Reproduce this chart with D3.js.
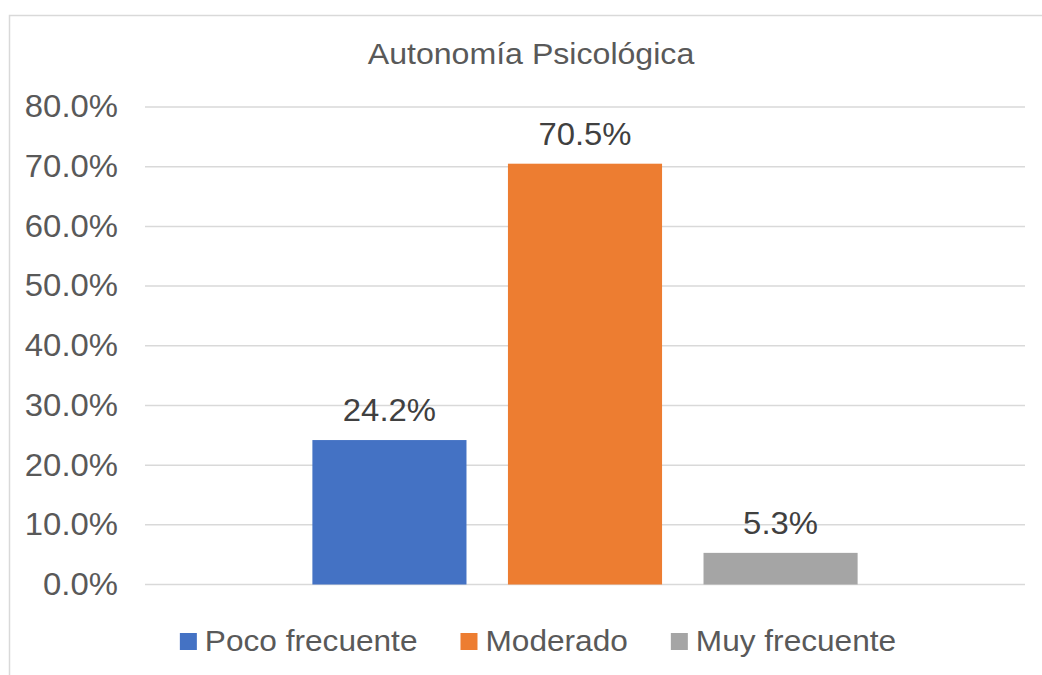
<!DOCTYPE html>
<html>
<head>
<meta charset="utf-8">
<script src="https://cdn.jsdelivr.net/npm/d3@7"></script>
<style>
  body { margin: 0; background: #fff; }
  svg text { font-family: "Liberation Sans", Arial, sans-serif; }
</style>
</head>
<body>
<svg id="chart" width="1042" height="675"></svg>
<script>
// data
var title = "Autonomía Psicológica";
var category = ["Autonomía Psicológica"];
var series = ["Poco frecuente", "Moderado", "Muy frecuente"];
var values = [24.2, 70.5, 5.3];
var colors = ["#4472C4", "#ED7D31", "#A5A5A5"];
var yTicks = [0, 10, 20, 30, 40, 50, 60, 70, 80];

var svg = d3.select("#chart");

// the original text is a bit wider than Liberation Sans, stretch it a little
function stretch(sel, k) {
  sel.each(function () {
    var w = this.getComputedTextLength();
    d3.select(this).attr("textLength", w * k).attr("lengthAdjust", "spacingAndGlyphs");
  });
}

// chart frame (runs off the right and bottom edges)
svg.append("rect")
  .attr("x", 9.5).attr("y", 15.5)
  .attr("width", 1100).attr("height", 700)
  .attr("fill", "none")
  .attr("stroke", "#d9d9d9")
  .attr("stroke-width", 1.5);

// title
svg.append("text")
  .attr("x", 531).attr("y", 64)
  .attr("text-anchor", "middle")
  .style("font-size", "30px")
  .style("fill", "#595959")
  .text(title)
  .call(stretch, 1.07);

var y = d3.scaleLinear()
  .domain([0, 80])
  .range([584.5, 107]);

var x0 = d3.scaleBand()
  .domain(category)
  .range([145, 1025])
  .paddingInner(0)
  .paddingOuter(0.307);

var x1 = d3.scaleBand()
  .domain(series)
  .range([0, x0.bandwidth()])
  .paddingInner(0.212)
  .paddingOuter(0);

// gridlines
svg.append("g")
  .selectAll("line")
  .data(yTicks)
  .join("line")
  .attr("x1", 145).attr("x2", 1025)
  .attr("y1", d => y(d)).attr("y2", d => y(d))
  .attr("stroke", "#d9d9d9")
  .attr("stroke-width", 1.5);

// y axis labels
var yAxis = svg.append("g")
  .attr("transform", "translate(128,0)")
  .call(d3.axisLeft(y).tickValues(yTicks).tickFormat(d => d.toFixed(1) + "%").tickSize(0).tickPadding(10));
yAxis.select(".domain").remove();
yAxis.selectAll("text")
  .style("font-size", "31px")
  .style("font-family", "'Liberation Sans', Arial, sans-serif")
  .attr("fill", "#595959")
  .call(stretch, 1.06);

// bars
var g = svg.append("g")
  .attr("transform", "translate(" + x0(category[0]) + ",0)");

g.selectAll("rect")
  .data(series)
  .join("rect")
  .attr("x", d => x1(d))
  .attr("y", (d, i) => y(values[i]))
  .attr("width", x1.bandwidth())
  .attr("height", (d, i) => y(0) - y(values[i]))
  .attr("fill", (d, i) => colors[i]);

// data labels
g.selectAll("text")
  .data(series)
  .join("text")
  .attr("x", d => x1(d) + x1.bandwidth() / 2)
  .attr("y", (d, i) => y(values[i]) - 19)
  .attr("text-anchor", "middle")
  .style("font-size", "31px")
  .style("fill", "#404040")
  .text((d, i) => values[i].toFixed(1) + "%")
  .call(stretch, 1.06);

// legend
var legend = svg.append("g");
var item = legend.selectAll("g")
  .data(series)
  .join("g");
item.append("rect")
  .attr("width", 17).attr("height", 17)
  .attr("y", 633)
  .attr("fill", (d, i) => colors[i]);
item.append("text")
  .attr("x", 25)
  .attr("y", 651)
  .style("font-size", "29px")
  .style("fill", "#595959")
  .text(d => d)
  .call(stretch, 1.09);

var widths = [];
item.each(function () {
  widths.push(+d3.select(this).select("text").attr("textLength") + 25);
});
var gap = 43;
var total = d3.sum(widths) + gap * (widths.length - 1);
var xpos = 538 - total / 2;
item.attr("transform", function (d, i) {
  var t = "translate(" + xpos + ",0)";
  xpos += widths[i] + gap;
  return t;
});
</script>
</body>
</html>
